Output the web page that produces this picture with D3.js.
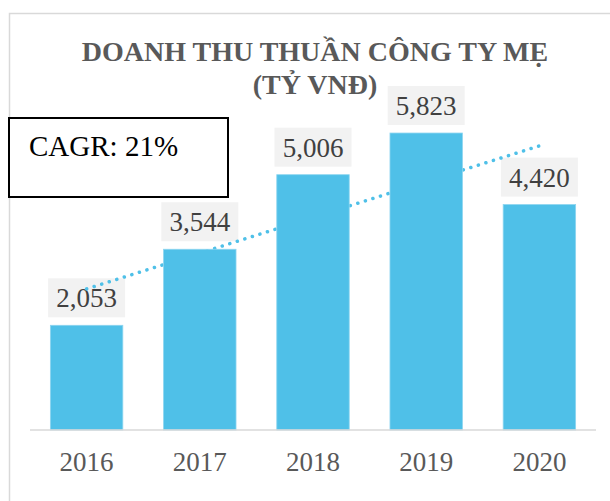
<!DOCTYPE html>
<html lang="vi">
  <head>
    <meta charset="utf-8">
    <title>Doanh thu thuần công ty mẹ</title>
    <style>
      body { margin: 0; background: #fff; }
      text { font-family: "Liberation Serif", "Times New Roman", serif; }
    </style>
  </head>
  <body>
<script src="https://d3js.org/d3.v7.min.js"></script>
<script>

// data
const years = ["2016", "2017", "2018", "2019", "2020"]
const revenue = [2053, 3544, 5006, 5823, 4420]
const titleLines = ["DOANH THU THUẦN CÔNG TY MẸ", "(TỶ VNĐ)"]
const cagrText = "CAGR: 21%"

const W = 610, H = 501
const blue = "#4fc0e8"

const svg = d3.select("body").append("svg")
    .attr("width", W)
    .attr("height", H)

// chart frame (cut off at right and bottom in the original)
svg.append("rect")
    .attr("x", 9.5).attr("y", 13.5)
    .attr("width", 640).attr("height", 540)
    .attr("fill", "#fff")
    .attr("stroke", "#d9d9d9")
    .attr("stroke-width", 1.5)

// title
svg.append("g").selectAll("text")
    .data(titleLines)
    .join("text")
    .attr("x", 315)
    .attr("y", (d, i) => 61 + i * 33)
    .attr("text-anchor", "middle")
    .attr("font-size", 28)
    .attr("font-weight", "bold")
    .attr("fill", "#595959")
    .text(d => d)

const x = d3.scaleBand()
    .domain(years)
    .range([30, 596])
    .paddingInner(0.36)
    .paddingOuter(0.18)

const y = d3.scaleLinear()
    .domain([0, 7000])
    .range([430, 430 - 0.051 * 7000])

// data label boxes
const labels = svg.append("g")
const boxW = 77, boxH = 39
labels.selectAll("rect")
    .data(revenue)
    .join("rect")
    .attr("x", (d, i) => x(years[i]) + x.bandwidth() / 2 - boxW / 2)
    .attr("y", d => y(d) - 8 - boxH)
    .attr("width", boxW)
    .attr("height", boxH)
    .attr("fill", "#f2f2f2")

// linear trend line, like the spreadsheet one
const xs = revenue.map((d, i) => i)
const mx = d3.mean(xs), my = d3.mean(revenue)
const slope = d3.sum(xs, (v, i) => (v - mx) * (revenue[i] - my)) / d3.sum(xs, v => (v - mx) ** 2)
const icpt = my - slope * mx
const ends = [0, years.length - 1]

svg.append("line")
    .attr("x1", x(years[ends[0]]) + x.bandwidth() / 2)
    .attr("y1", y(icpt + slope * ends[0]))
    .attr("x2", x(years[ends[1]]) + x.bandwidth() / 2)
    .attr("y2", y(icpt + slope * ends[1]))
    .attr("stroke", blue)
    .attr("stroke-width", 3.5)
    .attr("stroke-linecap", "round")
    .attr("stroke-dasharray", "0.1 7.8")

// bars
svg.append("g").selectAll("rect")
    .data(revenue)
    .join("rect")
    .attr("x", (d, i) => x(years[i]))
    .attr("y", d => y(d))
    .attr("width", x.bandwidth())
    .attr("height", d => y(0) - y(d))
    .attr("fill", blue)
    .attr("stroke", "#8dd5f0")
    .attr("stroke-width", 0.8)

labels.selectAll("text")
    .data(revenue)
    .join("text")
    .attr("x", (d, i) => x(years[i]) + x.bandwidth() / 2)
    .attr("y", d => y(d) - 18)
    .attr("text-anchor", "middle")
    .attr("font-size", 27)
    .attr("fill", "#404040")
    .text(d => d3.format(",")(d))

// category axis
const axis = svg.append("g")
    .attr("transform", "translate(0,430)")
    .call(d3.axisBottom(x).tickSize(0).tickPadding(22))
axis.select(".domain")
    .attr("d", "M30,0H596")
    .attr("stroke", "#d9d9d9")
    .attr("stroke-width", 1.5)
axis.selectAll(".tick text")
    .attr("font-family", "'Liberation Serif', 'Times New Roman', serif")
    .attr("font-size", 27)
    .attr("fill", "#595959")

// CAGR callout
svg.append("rect")
    .attr("x", 9).attr("y", 118)
    .attr("width", 219).attr("height", 79)
    .attr("fill", "#fff")
    .attr("stroke", "#000")
    .attr("stroke-width", 2)
svg.append("text")
    .attr("x", 29)
    .attr("y", 156)
    .attr("font-size", 29)
    .attr("fill", "#000")
    .text(cagrText)

</script>
  </body>
</html>
